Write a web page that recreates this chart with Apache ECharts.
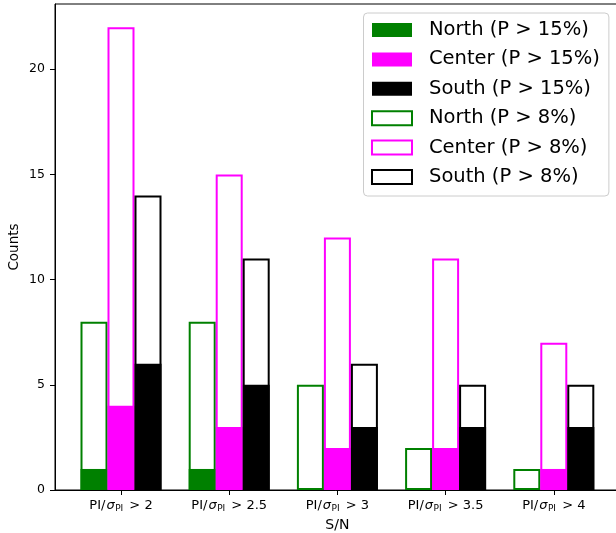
<!DOCTYPE html>
<html><head><meta charset="utf-8">
<script src="https://cdn.jsdelivr.net/npm/echarts@6/dist/echarts.min.js"></script>
<style>html,body{margin:0;padding:0;background:#fff}#c{width:616px;height:533px}</style>
</head><body><div id="c"></div>
<script>
const thresholds = ['2', '2.5', '3', '3.5', '4'];
const northHigh = [1, 1, 0, 0, 0];
const centerHigh = [4, 3, 2, 2, 1];
const southHigh = [6, 5, 3, 3, 3];
const northLow = [8, 8, 5, 2, 1];
const centerLow = [22, 15, 12, 11, 7];
const southLow = [14, 11, 6, 5, 5];
const yTicks = [0, 5, 10, 15, 20];

const FONT = 'DejaVu Sans';
const green = '#008000', magenta = '#ff00ff', black = '#000000';
const YMAX = 23.1;

function filled(name, data, color) {
  return { name, type: 'bar', xAxisIndex: 1, yAxisIndex: 1, data, barWidth: 27, barGap: '0%',
    itemStyle: { color }, silent: true, animation: false };
}
function outline(name, data, color) {
  return { name, type: 'bar', xAxisIndex: 2, yAxisIndex: 1, data, barWidth: 27, barGap: '0%',
    itemStyle: { color: 'rgba(0,0,0,0)', borderColor: color, borderWidth: 2 }, silent: true, animation: false, z: 3 };
}

const chart = echarts.init(document.getElementById('c'));
chart.setOption({
  backgroundColor: '#fff',
  animation: false,
  textStyle: { fontFamily: FONT },
  grid: [
    { left: 55, right: -4, top: 4, bottom: 43, show: true, borderColor: '#000', borderWidth: 1,
      backgroundColor: 'transparent', containLabel: false, outerBoundsMode: 'none' },
    { left: 66.9, width: 541, top: 4, bottom: 43, containLabel: false, outerBoundsMode: 'none' }
  ],
  xAxis: [
    { gridIndex: 0, type: 'value', min: 0, max: 1, show: true, axisLine: { show: true, lineStyle: { color: '#000', width: 1 } },
      axisTick: { show: false }, axisLabel: { show: false }, splitLine: { show: false } },
    { gridIndex: 1, type: 'category', data: thresholds, boundaryGap: true,
      axisLine: { show: false },
      axisTick: { show: true, alignWithLabel: true, interval: 0, length: 5, lineStyle: { color: '#000', width: 1 } },
      axisLabel: { margin: 8, interval: 0, color: '#000', fontFamily: FONT, hideOverlap: false,
        formatter: v => '{m|PI/}{i|σ}{s|PI}{m| > ' + v + '}',
        rich: {
          m: { fontSize: 13, fontFamily: FONT, color: '#000', lineHeight: 16 },
          i: { fontSize: 13, fontFamily: FONT, fontStyle: 'italic', color: '#000', lineHeight: 16, padding: [0, 0, 0, 1] },
          s: { fontSize: 9, fontFamily: FONT, color: '#000', lineHeight: 10, padding: [6, 2, 0, 0.5] }
        } },
      name: 'S/N', nameLocation: 'middle', nameGap: 24,
      nameTextStyle: { fontSize: 14, color: '#000', fontFamily: FONT },
      splitLine: { show: false } },
    { gridIndex: 1, type: 'category', data: thresholds, show: false }
  ],
  yAxis: [
    { gridIndex: 0, type: 'value', min: 0, max: YMAX, interval: 5,
      axisLine: { show: true, lineStyle: { color: '#000', width: 1 } },
      axisTick: { show: true, length: 5, customValues: yTicks, lineStyle: { color: '#000', width: 1 } },
      axisLabel: { color: '#000', fontSize: 12.5, fontFamily: FONT, margin: 10,
        customValues: yTicks, formatter: v => String(v) },
      splitLine: { show: false },
      name: 'Counts', nameLocation: 'middle', nameGap: 34, nameRotate: 90, nameMoveOverlap: false,
      nameTextStyle: { fontSize: 13.5, color: '#000', fontFamily: FONT } },
    { gridIndex: 1, type: 'value', min: 0, max: YMAX, show: false, splitLine: { show: false } }
  ],
  legend: {
    orient: 'vertical', left: 363.5, top: 13,
    itemWidth: 40, itemHeight: 14, itemGap: 9.4,
    padding: [7, 9, 9, 7.5],
    backgroundColor: 'rgba(255,255,255,0.8)', borderColor: '#cccccc', borderWidth: 1, borderRadius: 4,
    textStyle: { fontSize: 19.5, fontFamily: FONT, color: '#000', lineHeight: 20, padding: [0, 0, 0, 12] },
    selectedMode: false,
    data: [
      { name: 'North (P > 15%)', icon: 'rect', itemStyle: { color: green, borderWidth: 0 } },
      { name: 'Center (P > 15%)', icon: 'rect', itemStyle: { color: magenta, borderWidth: 0 } },
      { name: 'South (P > 15%)', icon: 'rect', itemStyle: { color: black, borderWidth: 0 } },
      { name: 'North (P > 8%)', icon: 'rect', itemStyle: { color: '#fff', borderColor: green, borderWidth: 2 } },
      { name: 'Center (P > 8%)', icon: 'rect', itemStyle: { color: '#fff', borderColor: magenta, borderWidth: 2 } },
      { name: 'South (P > 8%)', icon: 'rect', itemStyle: { color: '#fff', borderColor: black, borderWidth: 2 } }
    ]
  },
  series: [
    filled('North (P > 15%)', northHigh, green),
    filled('Center (P > 15%)', centerHigh, magenta),
    filled('South (P > 15%)', southHigh, black),
    outline('North (P > 8%)', northLow, green),
    outline('Center (P > 8%)', centerLow, magenta),
    outline('South (P > 8%)', southLow, black)
  ]
});
</script></body></html>
